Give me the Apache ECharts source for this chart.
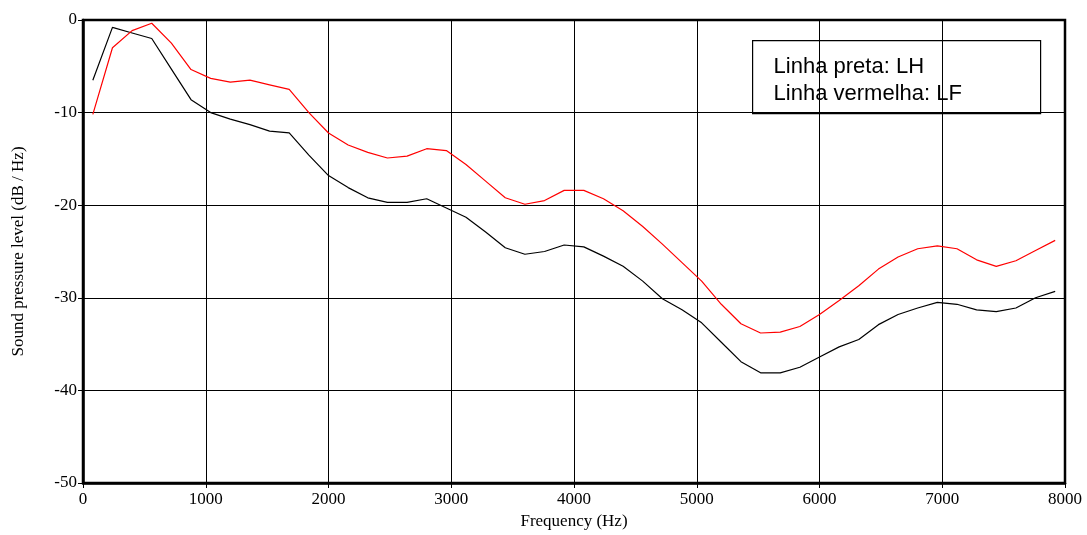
<!DOCTYPE html>
<html>
<head>
<meta charset="utf-8">
<script src="https://cdn.jsdelivr.net/npm/echarts@6/dist/echarts.min.js"></script>
<style>
  html, body { margin: 0; padding: 0; background: #fff; }
  #main { width: 1087px; height: 535px; }
</style>
</head>
<body>
<div id="main"></div>
<script>
// frequencies (Hz) of the spectrum points
const freqs = [80, 240, 400, 560, 720, 880, 1040, 1200, 1360, 1520,
  1680, 1840, 2000, 2160, 2320, 2480, 2640, 2800, 2960, 3120,
  3280, 3440, 3600, 3760, 3920, 4080, 4240, 4400, 4560, 4720,
  4880, 5040, 5200, 5360, 5520, 5680, 5840, 6000, 6160, 6320,
  6480, 6640, 6800, 6960, 7120, 7280, 7440, 7600, 7760, 7920];

// Linha preta: LH
const lh = [-6.5, -0.8, -1.4, -2.0, -5.3, -8.6, -10.0, -10.7, -11.3, -12.0,
  -12.2, -14.6, -16.8, -18.1, -19.2, -19.7, -19.7, -19.3, -20.3, -21.3,
  -22.9, -24.6, -25.3, -25.0, -24.3, -24.5, -25.5, -26.6, -28.2, -30.1,
  -31.3, -32.7, -34.8, -36.9, -38.1, -38.1, -37.5, -36.4, -35.3, -34.5,
  -32.9, -31.8, -31.1, -30.5, -30.7, -31.3, -31.5, -31.1, -30.0, -29.3];

// Linha vermelha: LF
const lf = [-10.2, -3.0, -1.15, -0.35, -2.5, -5.35, -6.3, -6.7, -6.5, -7.0,
  -7.5, -10.0, -12.2, -13.5, -14.3, -14.9, -14.7, -13.9, -14.1, -15.6,
  -17.4, -19.2, -19.9, -19.5, -18.4, -18.4, -19.3, -20.6, -22.3, -24.2,
  -26.2, -28.2, -30.7, -32.8, -33.8, -33.7, -33.1, -31.8, -30.3, -28.7,
  -26.9, -25.6, -24.7, -24.4, -24.7, -25.9, -26.6, -26.0, -24.9, -23.8];

const legendLines = ['Linha preta: LH', 'Linha vermelha: LF'];

const serif = '"Liberation Serif", "DejaVu Serif", serif';
const sans = '"Liberation Sans", Arial, sans-serif';

const myChart = echarts.init(document.getElementById('main'));

const option = {
  animation: false,
  backgroundColor: '#fff',
  grid: {
    left: 83, right: 22, top: 20, bottom: 48,
    show: true, borderColor: '#000', borderWidth: 2.5,
    backgroundColor: 'transparent'
  },
  xAxis: {
    type: 'value',
    min: 0, max: 8000, interval: 1000,
    name: 'Frequency (Hz)',
    nameLocation: 'middle',
    nameGap: 30,
    nameTextStyle: { fontFamily: serif, fontSize: 17, color: '#000' },
    axisLine: { show: true, onZero: false, lineStyle: { color: '#000', width: 2.5 } },
    axisTick: { show: true, length: 5, lineStyle: { color: '#000', width: 1 } },
    axisLabel: {
      fontFamily: serif, fontSize: 17, color: '#000', margin: 8,
      formatter: v => String(v)
    },
    splitLine: { show: true, lineStyle: { color: '#000', width: 1 } }
  },
  yAxis: {
    type: 'value',
    min: -50, max: 0, interval: 10,
    name: 'Sound pressure level (dB / Hz)',
    nameLocation: 'middle',
    nameGap: 56,
    nameTextStyle: { fontFamily: serif, fontSize: 17, color: '#000' },
    axisLine: { show: true, onZero: false, lineStyle: { color: '#000', width: 2.5 } },
    axisTick: { show: true, length: 5, lineStyle: { color: '#000', width: 1 } },
    axisLabel: { fontFamily: serif, fontSize: 17, color: '#000', margin: 6 },
    splitLine: { show: true, lineStyle: { color: '#000', width: 1 } }
  },
  graphic: [
    {
      type: 'group',
      left: 752, top: 40,
      children: [
        {
          type: 'rect',
          shape: { x: 0, y: 0, width: 288, height: 73 },
          style: { fill: '#fff', stroke: '#000', lineWidth: 1.2 }
        },
        {
          type: 'text',
          x: 21, y: 26,
          style: {
            text: legendLines[0],
            font: '22px ' + sans,
            fill: '#000',
            verticalAlign: 'middle'
          }
        },
        {
          type: 'text',
          x: 21, y: 53,
          style: {
            text: legendLines[1],
            font: '22px ' + sans,
            fill: '#000',
            verticalAlign: 'middle'
          }
        }
      ]
    }
  ],
  series: [
    {
      name: 'LH',
      type: 'line',
      data: freqs.map((f, i) => [f, lh[i]]),
      showSymbol: false,
      lineStyle: { color: '#000', width: 1.2 },
      z: 3
    },
    {
      name: 'LF',
      type: 'line',
      data: freqs.map((f, i) => [f, lf[i]]),
      showSymbol: false,
      lineStyle: { color: '#ff0000', width: 1.2 },
      z: 3
    }
  ]
};

myChart.setOption(option);
</script>
</body>
</html>
